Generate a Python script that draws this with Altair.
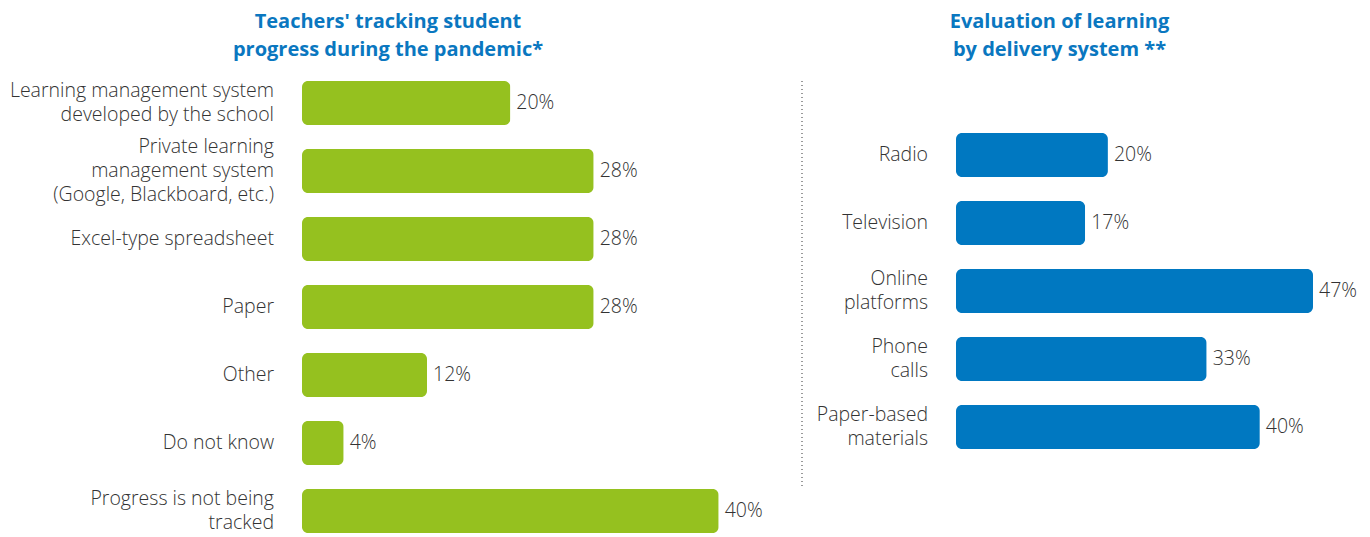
import altair as alt
import pandas as pd

left_categories = [
    "Learning management system|developed by the school",
    "Private learning|management system|(Google, Blackboard, etc.)",
    "Excel-type spreadsheet",
    "Paper",
    "Other",
    "Do not know",
    "Progress is not being|tracked",
]
left_values = [20, 28, 28, 28, 12, 4, 40]

right_categories = [
    "Radio",
    "Television",
    "Online|platforms",
    "Phone|calls",
    "Paper-based|materials",
]
right_values = [20, 17, 47, 33, 40]

left_title = ["Teachers' tracking student", "progress during the pandemic*"]
right_title = ["Evaluation of learning", "by delivery system **"]

GREEN = "#95c11f"
BLUE = "#0078c1"
TITLE_BLUE = "#0a77c0"
FONT = "Open Sans"
TXT = "#333333"
FS = 19.5
LH = 24


def panel(cats, vals, color, domain, width, height, pad_outer, extent, title, title_dx, divider=False):
    df = pd.DataFrame({"cat": cats, "val": vals})
    df["lbl"] = df["val"].astype(str) + "%"
    df["nlines"] = df["cat"].str.count(r"\|") + 1
    y = alt.Y(
        "cat:N",
        sort=cats,
        title=None,
        scale=alt.Scale(paddingInner=24 / 68, paddingOuter=pad_outer),
        axis=alt.Axis(
            domain=False,
            ticks=False,
            grid=False,
            labels=False,
            minExtent=extent,
            maxExtent=extent,
        ),
    )
    x = alt.X("val:Q", scale=alt.Scale(domain=domain), axis=None)
    base = alt.Chart(df).encode(y=y, x=x)
    bars = base.mark_bar(color=color, cornerRadius=6)
    text = base.mark_text(
        align="left", baseline="middle", dx=6, fontSize=FS, font=FONT,
        fontWeight=300, color=TXT
    ).encode(text="lbl:N")
    layers = [bars, text]
    for n in sorted(df["nlines"].unique()):
        lab = (
            alt.Chart(df)
            .transform_filter(alt.datum.nlines == int(n))
            .mark_text(
                align="right", baseline="middle", lineBreak="|", lineHeight=LH,
                fontSize=FS, font=FONT, fontWeight=300, color=TXT,
                dy=-(int(n) - 1) * LH / 2,
            )
            .encode(y=alt.Y("cat:N", sort=cats), x=alt.value(-28), text="cat:N")
        )
        layers.append(lab)
    if divider:
        rule = alt.Chart(df).mark_rule(color="#999999", strokeDash=[1, 3], strokeWidth=1).encode(
            x=alt.value(width), y=alt.value(0), y2=alt.value(408)
        )
        layers.append(rule)
    return alt.layer(*layers).properties(
        width=width,
        height=height,
        title=alt.Title(
            text=title,
            fontSize=20,
            font=FONT,
            fontWeight="bold",
            color=TITLE_BLUE,
            anchor="middle",
            frame="group",
            dx=title_dx,
            lineHeight=28,
            offset=21,
        ),
    )


left = panel(left_categories, left_values, GREEN, [0, 48], 500, 68 * 7 - 24, 0, 294,
             left_title, -164, divider=True)
right = panel(right_categories, right_values, BLUE, [0, 47], 357, 68 * 5 - 24 + 104, 52 / 68, 153,
              right_title, -75)

chart = (
    alt.hconcat(left, right, spacing=0)
    .properties(padding={"left": 0, "top": 3, "right": 0, "bottom": 12})
    .configure_view(stroke=None)
)

chart.save("out.html", embed_options={"renderer": "svg", "actions": False})
